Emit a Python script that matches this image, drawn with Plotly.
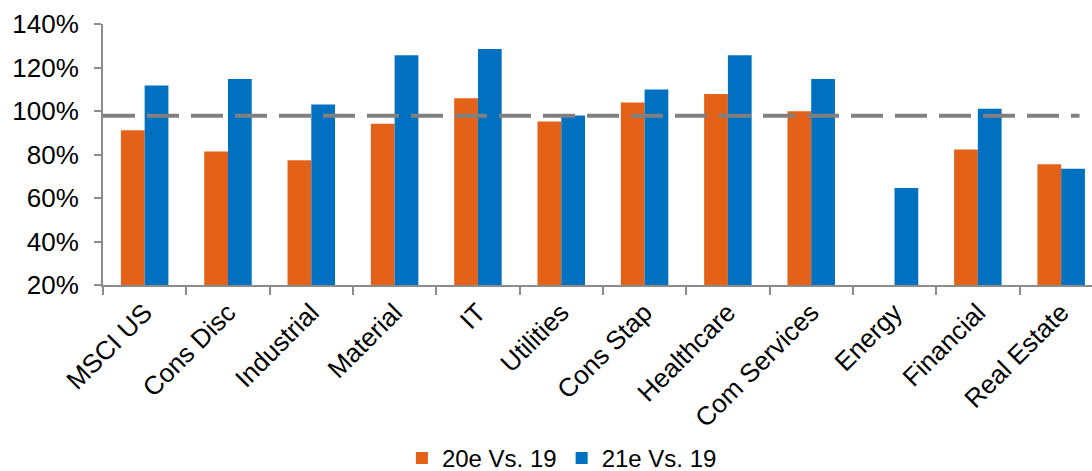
import plotly.graph_objects as go

# Sector labels along the category axis
sectors = ["MSCI US", "Cons Disc", "Industrial", "Material", "IT", "Utilities",
           "Cons Stap", "Healthcare", "Com Services", "Energy", "Financial", "Real Estate"]

# Earnings relative to 2019, in percent
est_2020 = [91.2, 81.4, 77.4, 94.1, 105.9, 95.2, 103.9, 107.8, 99.9, None, 82.3, 75.5]
est_2021 = [111.7, 114.7, 103.0, 125.6, 128.5, 97.9, 109.9, 125.6, 114.7, 64.6, 101.0, 73.4]

# Reference level drawn as a dashed line
reference_level = 97.8

series_names = ["20e Vs. 19", "21e Vs. 19"]
orange = "#E46218"
blue = "#0070C0"
axis_grey = "#8C8C8C"
font_family = "Liberation Sans, Arial, sans-serif"

fig = go.Figure()
fig.add_trace(go.Bar(x=sectors, y=est_2020, name=series_names[0],
                     marker=dict(color=orange, line=dict(width=0))))
fig.add_trace(go.Bar(x=sectors, y=est_2021, name=series_names[1],
                     marker=dict(color=blue, line=dict(width=0))))

fig.add_shape(type="line", xref="x", yref="y",
              x0=-0.5, x1=11.22, y0=reference_level, y1=reference_level,
              line=dict(color="#808080", width=4, dash="32px,12px"), layer="above")

fig.update_layout(
    width=1092, height=471,
    margin=dict(l=103, r=0, t=24, b=186, autoexpand=False),
    paper_bgcolor="white", plot_bgcolor="white",
    barmode="group", bargap=0.43, bargroupgap=0,
    font=dict(family=font_family, color="#000000", size=26),
    showlegend=True,
    legend=dict(orientation="h", x=0.464, xanchor="center", y=-0.664, yanchor="middle",
                font=dict(size=24, color="#000000"), itemwidth=30,
                bgcolor="rgba(0,0,0,0)", traceorder="normal",
                borderwidth=0, tracegroupgap=0),
)

fig.update_xaxes(
    range=[-0.5, 11.37], showline=True, linecolor=axis_grey, linewidth=2,
    ticks="outside", tickson="boundaries", ticklen=8, tickwidth=2, tickcolor=axis_grey,
    tickangle=-45, tickfont=dict(size=26), showgrid=False, zeroline=False,
    automargin=False,
)
fig.update_yaxes(
    range=[20, 140], dtick=20, tick0=20, ticksuffix="%",
    showline=True, linecolor=axis_grey, linewidth=2,
    ticks="outside", ticklen=7, tickwidth=2, tickcolor=axis_grey,
    ticklabelstandoff=10, tickfont=dict(size=26),
    showgrid=False, zeroline=False, automargin=False,
)

fig.write_html("out.html")
